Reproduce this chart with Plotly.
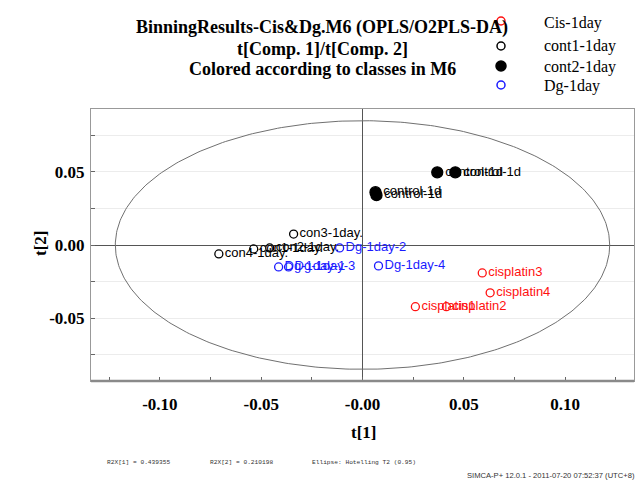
import numpy as np
import plotly.graph_objects as go

# ---- data ----
cis_x = [0.0591, 0.0630, 0.0261, 0.0414]
cis_y = [-0.0191, -0.0327, -0.0422, -0.0422]
cis_lbl = ["cisplatin3", "cisplatin4", "cisplatin1", "cisplatin2"]

cont1_x = [-0.0340, -0.0537, -0.0458, -0.0709]
cont1_y = [0.0075, -0.0027, -0.0020, -0.0061]
cont1_lbl = ["con3-1day.", "con1-1day.", "con2-1day.", "con4-1day."]

cont2_x = [0.0369, 0.0458, 0.0064, 0.0069]
cont2_y = [0.0497, 0.0497, 0.0361, 0.0341]
cont2_lbl = ["control-1d", "control-1d", "control-1d", "control-1d"]

dg_x = [-0.0113, 0.0079, -0.0414, -0.0365]
dg_y = [-0.0020, -0.0143, -0.0150, -0.0150]
dg_lbl = ["Dg-1day-2", "Dg-1day-4", "Dg-1day-1", "Dg-1day-3"]

class_names = ["Cis-1day", "cont1-1day", "cont2-1day", "Dg-1day"]

x_tickvals = [-0.10, -0.05, 0.0, 0.05, 0.10]
x_ticktext = ["-0.10", "-0.05", "-0.00", "0.05", "0.10"]
y_tickvals = [-0.05, 0.0, 0.05]
y_ticktext = ["-0.05", "0.00", "0.05"]

ellipse_a = 0.122   # Hotelling T2 (0.95) semi-axis, t[1]
ellipse_b = 0.085   # semi-axis, t[2]

title_lines = ["BinningResults-Cis&Dg.M6 (OPLS/O2PLS-DA)",
               "t[Comp. 1]/t[Comp. 2]",
               "Colored according to classes in M6"]
footer_items = ["R2X[1] = 0.439355", "R2X[2] = 0.210198", "Ellipse: Hotelling T2 (0.95)"]
credit = "SIMCA-P+ 12.0.1 - 2011-07-20 07:52:37 (UTC+8)"

RED = "#ff1010"
BLUE = "#1a1aff"
BLACK = "#000000"

# ---- layout geometry (page has an 8px body margin) ----
OFF = 8
W, H = 644 - OFF, 484 - OFF
L, T = 91 - OFF, 109 - OFF
R = W - (634 - OFF)
B = H - (381 - OFF)
PW, PH = W - L - R, H - T - B


def px(xp):
    return (xp - OFF - L) / PW


def py(yp):
    return (H - B - (yp - OFF)) / PH


fig = go.Figure()

t = np.linspace(0, 2 * np.pi, 400)
fig.add_trace(go.Scatter(x=ellipse_a * np.cos(t), y=ellipse_b * np.sin(t), mode="lines",
                         line=dict(color="#707070", width=1), hoverinfo="skip", showlegend=False))

lab_font = dict(family="Liberation Sans, Arial", size=13)


def add_series(xs, ys, labels, color, symbol, size, name):
    fig.add_trace(go.Scatter(
        x=xs, y=ys, text=labels, mode="markers+text", name=name,
        textposition="middle right",
        textfont=dict(lab_font, color=color),
        marker=dict(symbol=symbol, size=size, color=color, line=dict(color=color, width=1.3)),
        showlegend=False))


add_series(cis_x, cis_y, cis_lbl, RED, "circle-open", 8, class_names[0])
add_series(cont1_x, cont1_y, cont1_lbl, BLACK, "circle-open", 8, class_names[1])
add_series(cont2_x, cont2_y, cont2_lbl, BLACK, "circle", 11, class_names[2])
add_series(dg_x, dg_y, dg_lbl, BLUE, "circle-open", 8, class_names[3])

serif = "Liberation Serif, Times New Roman, serif"
ann = []
for i, line in enumerate(title_lines):
    ann.append(dict(text=line, x=px(322), y=py(28 + 20.5 * i), xref="paper", yref="paper",
                    xanchor="center", yanchor="middle", showarrow=False,
                    font=dict(family=serif, size=18, color="black", weight="bold")))

legend_styles = [(RED, False), (BLACK, False), (BLACK, True), (BLUE, False)]
legend_text_y = [23, 45.5, 66.5, 86]
legend_sym_y = [21, 46, 66, 85]
shapes = []
for name, (col, filled), ty, sy in zip(class_names, legend_styles, legend_text_y, legend_sym_y):
    r = 5 if filled else 4
    shapes.append(dict(type="circle", xref="paper", yref="paper",
                       xsizemode="pixel", ysizemode="pixel",
                       xanchor=px(501), yanchor=py(sy),
                       x0=-r, x1=r, y0=-r, y1=r,
                       line=dict(color=col, width=1.5),
                       fillcolor=col if filled else "rgba(0,0,0,0)"))
    ann.append(dict(text=name, x=px(542), y=py(ty), xref="paper", yref="paper",
                    xanchor="left", yanchor="middle", showarrow=False,
                    font=dict(family=serif, size=16, color="black")))

ann.append(dict(text="t[1]", x=px(363), y=py(432), xref="paper", yref="paper",
                xanchor="center", yanchor="middle", showarrow=False,
                font=dict(family=serif, size=17, color="black", weight="bold")))
ann.append(dict(text="t[2]", x=px(40), y=py(244), xref="paper", yref="paper",
                xanchor="center", yanchor="middle", showarrow=False, textangle=-90,
                font=dict(family=serif, size=17, color="black", weight="bold")))

for txt, xp in zip(footer_items, [105, 208, 310]):
    ann.append(dict(text=txt, x=px(xp), y=py(462), xref="paper", yref="paper",
                    xanchor="left", yanchor="middle", showarrow=False,
                    font=dict(family="Liberation Mono, Courier New, monospace", size=6.2, color="#333")))
ann.append(dict(text=credit, x=px(637), y=py(476), xref="paper", yref="paper",
                xanchor="right", yanchor="middle", showarrow=False,
                font=dict(family="Liberation Sans, Arial", size=7.6, color="#333")))

# thicker bottom axis line
shapes.append(dict(type="line", xref="paper", yref="paper", x0=0, x1=1, y0=0, y1=0,
                   line=dict(color="#8a8a8a", width=2.5)))

tickfont = dict(family=serif, size=17, color="black", weight="bold")
fig.update_layout(
    width=W, height=H, margin=dict(l=L, r=R, t=T, b=B, autoexpand=False),
    paper_bgcolor="white", plot_bgcolor="white",
    annotations=ann, shapes=shapes,
    xaxis=dict(range=[-0.134, 0.134], tickmode="array", tickvals=x_tickvals, ticktext=x_ticktext,
               tickfont=tickfont, showgrid=False, zeroline=True, zerolinecolor="#555",
               zerolinewidth=1, showline=True, mirror=True, linecolor="#999", linewidth=1,
               ticks="inside", ticklen=4, tickcolor="#666", ticklabelstandoff=8,
               minor=dict(tickmode="linear", tick0=0, dtick=0.025, ticks="inside", ticklen=4,
                          tickcolor="#666", showgrid=False)),
    yaxis=dict(range=[-0.093, 0.093], tickmode="array", tickvals=y_tickvals, ticktext=y_ticktext,
               tickfont=tickfont, showgrid=True, gridcolor="#ececec", gridwidth=1,
               zeroline=True, zerolinecolor="#555", zerolinewidth=1,
               showline=True, mirror=True, linecolor="#999", linewidth=1,
               ticks="inside", ticklen=4, tickcolor="#666", ticklabelstandoff=2,
               minor=dict(tickmode="linear", tick0=0, dtick=0.025, ticks="inside", ticklen=4,
                          tickcolor="#666", showgrid=True, gridcolor="#ececec")),
    showlegend=False,
)

fig.write_html("out.html")
